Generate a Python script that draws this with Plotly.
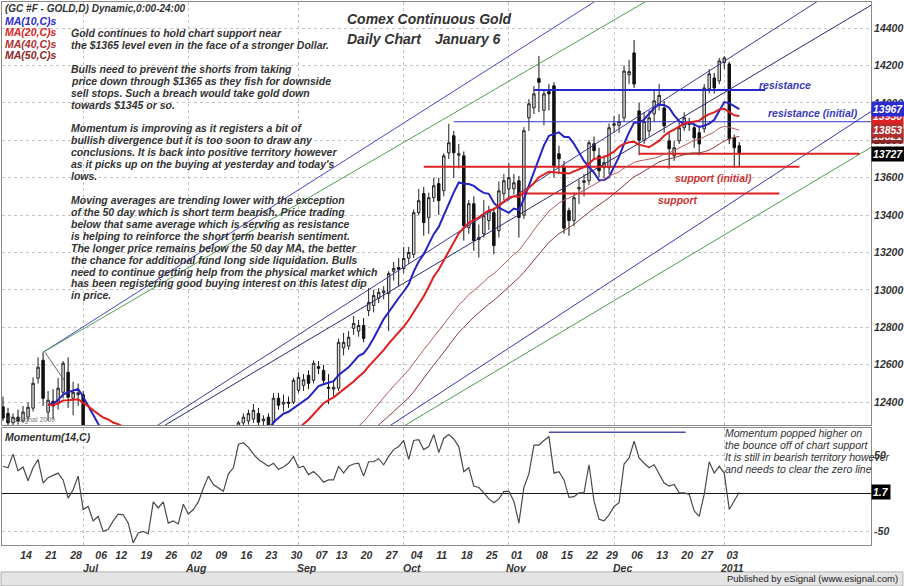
import pandas as pd
import plotly.graph_objects as go

# trading days on the chart (exchange holidays are skipped)
holidays = ["2010-07-05", "2010-09-06", "2010-11-25", "2010-12-24"]
dates = [d for d in pd.bdate_range("2010-06-09", "2011-01-06")
         if d.strftime("%Y-%m-%d") not in holidays]

opens = [
    12375, 12340, 12290, 12320, 12300, 12320, 12368, 12528, 12624, 12347,
    12405, 12400, 12453, 12560, 12421, 12440, 12440, 12080, 12090, 11950,
    11930, 11970, 12100, 11980, 12130, 12090, 12070, 11900, 11820, 11910,
    11930, 11940, 11890, 11830, 11600, 11620, 11670, 11810, 11840, 11930,
    11970, 11980, 12050, 12000, 11970, 11980, 12140, 12275, 12290, 12300,
    12310, 12340, 12300, 12320, 12290, 12421, 12390, 12400, 12400, 12464,
    12490, 12544, 12517, 12590, 12570, 12480, 12470, 12475, 12690, 12700,
    12795, 12780, 12810, 12890, 12917, 12955, 12985, 12981, 13100, 13120,
    13115, 13170, 13190, 13413, 13515, 13387, 13493, 13568, 13531, 13733,
    13824, 13720, 13717, 13333, 13461, 13270, 13301, 13371, 13413, 13317,
    13515, 13540, 13540, 13584, 13400, 13920, 13973, 14130, 13960, 14060,
    14091, 13728, 13660, 13424, 13371, 13540, 13575, 13584, 13781, 13717,
    13653, 13653, 13880, 13880, 13920, 14150, 14267, 13957, 13800, 13850,
    13941, 13990, 13973, 13797, 13717, 13797, 13867, 13895, 13867, 13840,
    13861, 14075, 14133, 14117, 14215, 14208, 13813, 13771]
highs = [
    12430, 12370, 12340, 12360, 12380, 12400, 12533, 12640, 12667, 12460,
    12470, 12530, 12620, 12640, 12510, 12500, 12460, 12140, 12130, 11980,
    12010, 12110, 12120, 12150, 12160, 12110, 12100, 11930, 11930, 11970,
    12000, 11970, 11920, 11850, 11670, 11720, 11840, 11880, 11950, 12000,
    12000, 12110, 12090, 12040, 12020, 12160, 12230, 12300, 12340, 12360,
    12390, 12370, 12330, 12340, 12448, 12450, 12440, 12430, 12530, 12560,
    12550, 12570, 12624, 12620, 12600, 12550, 12520, 12740, 12770, 12780,
    12860, 12840, 12850, 13010, 13000, 13010, 13020, 13100, 13150, 13170,
    13230, 13230, 13430, 13540, 13550, 13520, 13600, 13600, 13730, 13888,
    13850, 13780, 13740, 13480, 13500, 13350, 13480, 13450, 13440, 13580,
    13620, 13680, 13620, 13610, 13870, 14020, 14090, 14251, 14070, 14100,
    14110, 13771, 13690, 13440, 13520, 13590, 13620, 13800, 13820, 13760,
    13720, 13890, 13930, 13940, 14200, 14230, 14336, 14000, 13950, 13960,
    14064, 14101, 14010, 13840, 13797, 13900, 13950, 13920, 13890, 13880,
    14100, 14180, 14160, 14240, 14250, 14220, 13830, 13790]
lows = [
    12300, 12270, 12250, 12280, 12290, 12300, 12350, 12500, 12380, 12300,
    12310, 12360, 12420, 12370, 12330, 12380, 12000, 12030, 11930, 11880,
    11900, 11950, 11960, 11970, 12040, 12020, 11880, 11770, 11780, 11860,
    11880, 11840, 11810, 11580, 11570, 11560, 11650, 11780, 11820, 11900,
    11920, 11930, 11970, 11910, 11940, 11970, 12110, 12240, 12270, 12280,
    12290, 12270, 12270, 12240, 12280, 12360, 12350, 12370, 12390, 12450,
    12460, 12470, 12500, 12550, 12500, 12390, 12430, 12460, 12650, 12680,
    12760, 12750, 12720, 12860, 12880, 12930, 12950, 12780, 13050, 13020,
    13090, 13140, 13170, 13400, 13290, 13300, 13470, 13400, 13500, 13700,
    13600, 13650, 13264, 13300, 13210, 13173, 13280, 13320, 13190, 13280,
    13480, 13480, 13510, 13280, 13380, 13850, 13940, 13950, 13880, 13960,
    13600, 13621, 13301, 13290, 13340, 13460, 13500, 13560, 13700, 13600,
    13600, 13620, 13840, 13840, 13900, 14100, 14080, 13720, 13780, 13820,
    13900, 13960, 13840, 13648, 13690, 13780, 13850, 13850, 13760, 13720,
    13840, 14050, 14050, 14100, 14180, 13780, 13653, 13653]
closes = [
    12315, 12290, 12320, 12300, 12347, 12373, 12501, 12587, 12421, 12411,
    12380, 12475, 12608, 12427, 12453, 12450, 12080, 12090, 11950, 11930,
    11970, 12100, 11980, 12130, 12090, 12070, 11900, 11820, 11910, 11930,
    11940, 11890, 11830, 11600, 11620, 11670, 11810, 11840, 11930, 11970,
    11980, 12050, 12000, 11970, 11980, 12140, 12190, 12290, 12320, 12340,
    12357, 12293, 12310, 12270, 12421, 12384, 12400, 12395, 12517, 12533,
    12520, 12501, 12608, 12581, 12517, 12475, 12480, 12720, 12720, 12747,
    12821, 12810, 12741, 12933, 12970, 12987, 12995, 13088, 13115, 13110,
    13168, 13200, 13413, 13477, 13360, 13493, 13557, 13477, 13717, 13787,
    13733, 13728, 13344, 13461, 13264, 13280, 13397, 13424, 13237, 13530,
    13584, 13600, 13573, 13387, 13851, 13995, 14048, 14110, 14048, 14048,
    13664, 13701, 13330, 13371, 13493, 13547, 13584, 13787, 13744, 13637,
    13680, 13867, 13888, 13900, 14170, 14167, 14101, 13800, 13900, 13920,
    14011, 14040, 13877, 13755, 13760, 13867, 13920, 13885, 13813, 13780,
    14080, 14155, 14080, 14224, 14240, 13808, 13760, 13727]

# Momentum(14,C)
momentum = [
    36, 34, 52, 30, 35, 17, 34, 45, 14, 21, 24, 27, 18, -6, 5, 23, -21, -17,
    -36, -30, -50, -47, -36, -27, -28, -39, -65, -52, -50, -53, -11, -19, -11,
    -39, -36, -40, -14, -27, -21, -11, 7, 23, 12, 7, 3, 26, 34, 65, 67, 61,
    52, 45, 40, 36, 40, 32, 35, 40, 49, 34, 36, 25, 29, 23, 15, 18, 18, 36,
    27, 36, 39, 40, 23, 42, 42, 46, 38, 49, 58, 62, 70, 45, 70, 71, 58, 62,
    78, 54, 73, 78, 72, 62, 29, 34, 10, 8, 1, -7, -12, -7, 3, 3, -10, -39, 8,
    26, 64, 64, 70, 75, 27, 29, 18, -5, -4, 1, 1, 38, -10, -34, -36, -28, -17,
    -12, 39, 47, 69, 47, 40, 34, 38, 25, 14, 10, 12, 1, 1, -1, -23, -30, -1,
    42, 27, 36, 27, -21, -10, 1.7]

ma_periods = [10, 20, 40, 50]
price_ticks = [12400, 12600, 12800, 13000, 13200, 13400, 13600, 13800, 14000, 14200, 14400]

# analyst drawings: (start bar, start price, end bar, end price)
trend_lines = [
    (8, 12667, 118.3, 14544),
    (8, 12667, 128.5, 14544),
    (30.3, 12267, 162.7, 14544),
    (31.7, 12267, 173.7, 14528),
    (77, 12270, 173.5, 13957),
    (80.3, 12277, 173.5, 13765),
    (8.4, 12667, 12.2, 12517),
]
level_prices = [14069, 13899, 13728, 13659, 13515]
level_spans = [(106, 152.2), (90, 173.5), (127, 171), (84, 159), (103, 155)]
level_labels = ["resistance", "resistance (initial)", "", "support (initial)", "support"]
momentum_mark = (109, 136.3, 81)

commentary = [
    "Gold continues to hold chart support near",
    "the $1365 level even in the face of a stronger Dollar.",
    "",
    "Bulls need to prevent the shorts from taking",
    "price down through $1365 as they fish for downside",
    "sell stops. Such a breach would take gold down",
    "towards $1345 or so.",
    "",
    "Momentum is improving as it registers a bit of",
    "bullish divergence but it is too soon to draw any",
    "conclusions. It is back into positive territory however",
    "as it picks up on the buying at yesterday and today's",
    "lows.",
    "",
    "Moving averages are trending lower with the exception",
    "of the 50 day which is short term bearish. Price trading",
    "below that same average which is serving as resistance",
    "is helping to reinforce the short term bearish sentiment.",
    "The longer price remains below the 50 day MA, the better",
    "the chance for additional fund long side liquidation. Bulls",
    "need to continue getting help from the physical market which",
    "has been registering good buying interest on this latest dip",
    "in price.",
]
momentum_note = [
    "Momentum popped higher on",
    "the bounce off of chart support",
    "It is still in bearish territory however",
    "and needs to clear the zero line",
]

# ---------------------------------------------------------------------------
FONT = "Liberation Sans, Arial, sans-serif"
DARK = "#333333"
ma_colors = ["#2424c4", "#e01e1e", "#b25a5a", "#8a3a3a"]
ma_widths = [2, 2, 1, 1]
box_colors = ["#2a2ad0", "#dd2222", "#b03030", "#8c2626"]
trend_colors = ["#4646cc", "#4f9f4f", "#3a3a9a", "#2a2a6e", "#3838b4", "#4f9a4f", "#666666"]
level_colors = ["#2828cc", "#3434c8", "#dd2222", "#dd2222", "#dd2222"]
level_widths = [2, 1, 2, 2, 2]
level_label_colors = ["#3a3ac0", "#3a3ac0", "#cc3333", "#cc3333", "#cc3333"]
level_label_pos = [(156.2, 14096), (161.8, 13947), None, (141.8, 13600), (134.7, 13483)]

bars = list(range(len(dates)))
close_s = pd.Series(closes, dtype=float)
mas = [close_s.rolling(n, min_periods=min(n, 10) if n <= 20 else n).mean() for n in ma_periods]

X_RANGE = [-0.2, 173.3]
Y_RANGE = [12277, 14539]
M_RANGE = [-67.8, 86.2]


def px(x):
    return (x - 1) / 871


def py(y):
    return (545 - y) / 544


def note(text, x, y, size=10.5, color=DARK, bold=True, italic=True, anchor="left", **kw):
    return dict(text=text, x=x, y=y, xref=kw.pop("xref", "paper"), yref=kw.pop("yref", "paper"),
                xanchor=anchor, yanchor="middle", showarrow=False,
                font=dict(family=FONT, size=size, color=color,
                          weight="bold" if bold else "normal",
                          style="italic" if italic else "normal"), **kw)


fig = go.Figure()

# trendlines and horizontal levels behind the price
for (x0, y0, x1, y1), c in zip(trend_lines, trend_colors):
    fig.add_trace(go.Scatter(x=[x0, x1], y=[y0, y1], mode="lines",
                             line=dict(color=c, width=1), xaxis="x", yaxis="y"))
for p, (x0, x1), c, w in zip(level_prices, level_spans, level_colors, level_widths):
    fig.add_trace(go.Scatter(x=[x0, x1], y=[p, p], mode="lines",
                             line=dict(color=c, width=w), xaxis="x", yaxis="y"))

for ma, c, w in zip(mas, ma_colors, ma_widths):
    fig.add_trace(go.Scatter(x=bars, y=ma, mode="lines", line=dict(color=c, width=w),
                             xaxis="x", yaxis="y"))

fig.add_trace(go.Candlestick(
    x=bars, open=opens, high=highs, low=lows, close=closes,
    increasing=dict(line=dict(color="#222222", width=1), fillcolor="#dedede"),
    decreasing=dict(line=dict(color="#111111", width=1), fillcolor="#111111"),
    whiskerwidth=0, xaxis="x", yaxis="y"))

# momentum panel
fig.add_trace(go.Scatter(x=bars, y=momentum, mode="lines",
                         line=dict(color="#4a4a4a", width=1.2), xaxis="x2", yaxis="y2"))
m0, m1, mv = momentum_mark
fig.add_trace(go.Scatter(x=[m0, m1], y=[mv, mv], mode="lines",
                         line=dict(color="#4b4bb0", width=1.5), xaxis="x2", yaxis="y2"))

# date ticks: first bar of each week, month names under first bar of each month
week_idx, week_txt, month_idx, month_txt = [], [], [], []
for i in range(1, len(dates)):
    d, prev = dates[i], dates[i - 1]
    if d.isocalendar()[1] != prev.isocalendar()[1]:
        week_idx.append(i)
        week_txt.append(d.strftime("%d"))
    if d.month != prev.month:
        month_idx.append(i)
        month_txt.append(d.strftime("%Y") if d.year != prev.year else d.strftime("%b"))

tick_font = dict(family=FONT, size=10.5, color=DARK, weight="bold", style="italic")
grid = dict(tickmode="array", tickvals=month_idx, showgrid=True, gridcolor="#c4c4c4",
            griddash="dot", gridwidth=1, ticks="")
frame = dict(showline=True, linecolor="#8a8a8a", linewidth=1, mirror=True)

fig.update_layout(
    width=904, height=586,
    margin=dict(l=1, r=32, t=1, b=41),
    paper_bgcolor="white", plot_bgcolor="white",
    showlegend=False, hovermode=False,
    xaxis=dict(domain=[0, 1], anchor="y", range=X_RANGE, showticklabels=False,
               showgrid=False, zeroline=False, rangeslider=dict(visible=False),
               minor=grid, **frame),
    yaxis=dict(domain=[py(425), 1], anchor="x", range=Y_RANGE, side="right",
               tickmode="array", tickvals=price_ticks, ticktext=[str(t) for t in price_ticks],
               showgrid=True, gridcolor="#c4c4c4", griddash="dot", zeroline=False,
               tickfont=tick_font, ticks="", **frame),
    xaxis2=dict(domain=[0, 1], anchor="y2", range=X_RANGE, tickmode="array",
                tickvals=week_idx, ticktext=week_txt, tickfont=tick_font, ticks="",
                ticklabelshift=8, showgrid=False, zeroline=False, minor=grid, **frame),
    yaxis2=dict(domain=[0, py(428)], anchor="x2", range=M_RANGE, side="right",
                tickmode="array", tickvals=[-50, 50], ticktext=["-50", "50"],
                showgrid=True, gridcolor="#c4c4c4", griddash="dot",
                zeroline=True, zerolinecolor="#111111", zerolinewidth=1.3,
                tickfont=tick_font, ticks="", **frame),
)

ann = []
# header legend
ann.append(note("(GC #F - GOLD,D) Dynamic,0:00-24:00", px(2), py(8), size=10))
for k, n in enumerate(ma_periods):
    ann.append(note(f"MA({n},C)s", px(2), py(20 + 11.4 * k), color=box_colors[k]))
ann.append(note("Comex Continuous Gold", px(345), py(18), size=14))
ann.append(note("Daily Chart", px(345), py(38), size=14))
ann.append(note("January 6", px(433), py(38), size=14))
for k, line in enumerate(commentary):
    if line:
        ann.append(note(line, px(68), py(32 + 11.95 * k)))
ann.append(note("\u00a9 eSignal 2009", px(4), py(420), size=7, color="#777777",
                bold=False, italic=False))

# level captions
for lab, pos, c in zip(level_labels, level_label_pos, level_label_colors):
    if lab:
        ann.append(note(lab, pos[0], pos[1], size=10.5, color=c, anchor="center",
                        xref="x", yref="y"))

# last values at the price scale (slower averages drawn first, so faster ones sit on top)
last_vals = [m.iloc[-1] for m in mas]
for v, c in reversed(list(zip(last_vals, box_colors))):
    ann.append(note(f"{v:.0f}", 1.0, v, size=10.5, color="white", bold=True, italic=True,
                    yref="y", bgcolor=c, borderpad=1))
ann.append(note(f"{closes[-1]}", 1.0, closes[-1], size=10.5, color="white",
                yref="y", bgcolor="#000000", borderpad=1))

# momentum panel texts
ann.append(note("Momentum(14,C)", px(2), py(437), size=10.5))
for k, line in enumerate(momentum_note):
    ann.append(note(line, px(724), py(433 + 12 * k), size=10.5, bold=False))
ann.append(note(f"{momentum[-1]}", 1.0, momentum[-1], size=10.5, color="white",
                yref="y2", bgcolor="#000000", borderpad=1))

# month names under the date ticks
for i, t in zip(month_idx, month_txt):
    ann.append(note(t, i, py(568), size=10.5, anchor="center", xref="x2", xshift=8))

ann.append(note("Published by eSignal (www.esignal.com)", px(901), py(579), size=9.5,
                bold=False, italic=False, anchor="right", color="#222222"))
fig.update_layout(annotations=ann)

fig.add_shape(type="rect", xref="paper", yref="paper", x0=px(0), x1=px(904),
              y0=py(586), y1=py(572), fillcolor="#e4e4e4", line=dict(color="#b0b0b0", width=1),
              layer="below")

# the page's default body margin would push the 904x586 figure off the window
fig.write_html("out.html", config={"displayModeBar": False},
               post_script="document.body.style.margin = '0';")
